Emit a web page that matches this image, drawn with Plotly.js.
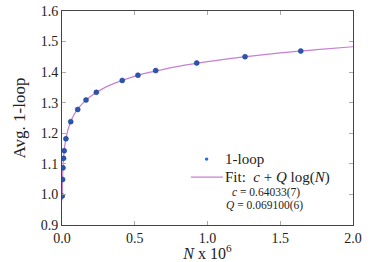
<!DOCTYPE html>
<html>
<head>
<meta charset="utf-8">
<script src="https://cdn.plot.ly/plotly-3.0.1.min.js"></script>
<style>html,body{margin:0;padding:0;background:#fff;}#chart{width:374px;height:262px;}</style>
</head>
<body>
<div id="chart"></div>
<script>
const nValues = [0.0018, 0.004, 0.0068, 0.0106, 0.0152, 0.027, 0.060, 0.108, 0.165, 0.236, 0.414, 0.522, 0.644, 0.926, 1.258, 1.641];
const avgValues = [0.995, 1.049, 1.087, 1.118, 1.143, 1.182, 1.238, 1.278, 1.309, 1.334, 1.373, 1.390, 1.405, 1.430, 1.4505, 1.469];
const fitN = [0.0015, 0.003, 0.005, 0.01, 0.02, 0.04, 0.07, 0.1, 0.15, 0.2, 0.3, 0.45, 0.6, 0.8, 1.0, 1.25, 1.5, 1.75, 2.0];
const fitValues = [0.981, 1.030, 1.065, 1.1135, 1.162, 1.210, 1.249, 1.274, 1.302, 1.322, 1.351, 1.379, 1.399, 1.419, 1.4345, 1.450, 1.463, 1.4735, 1.483];
const xTicks = [0.0, 0.5, 1.0, 1.5, 2.0];
const xTickText = ['0.0', '0.5', '1.0', '1.5', '2.0'];
const yTicks = [0.9, 1.0, 1.1, 1.2, 1.3, 1.4, 1.5, 1.6];
const yTickText = ['0.9', '1.0', '1.1', '1.2', '1.3', '1.4', '1.5', '1.6'];
const legendNames = ['1-loop', 'Fit:  <i>c</i> + <i>Q</i> log(<i>N</i>)'];
const fitText = ['<i>c</i> = 0.64033(7)', '<i>Q</i> = 0.069100(6)'];

const font = 'Liberation Serif, DejaVu Serif, serif';
const pointColor = '#2a55b0';
const fitColor = '#c87fd2';
const traces = [
  {x: fitN, y: fitValues, mode: 'lines', line: {color: fitColor, width: 1.2, shape: 'spline'},
   name: legendNames[1], hoverinfo: 'skip'},
  {x: nValues, y: avgValues, mode: 'markers', marker: {color: pointColor, size: 5, line: {color: '#1c3f8a', width: 0.5}},
   name: legendNames[0]}
];
const axisCommon = {
  showgrid: false, zeroline: false, showline: true, mirror: 'ticks', linecolor: '#444', linewidth: 1,
  ticks: 'inside', ticklen: 4, tickcolor: '#aaa', tickwidth: 1,
  tickfont: {family: font, size: 14, color: '#222'}
};
const txt = (x, y, text, size) => ({xref: 'paper', yref: 'paper', x: x, y: y, xanchor: 'left', yanchor: 'middle',
  showarrow: false, text: text, font: {family: font, size: size, color: '#222'}});
const layout = {
  width: 374, height: 262,
  margin: {l: 62, r: 21, t: 11, b: 37},
  paper_bgcolor: '#fff', plot_bgcolor: '#fff',
  font: {family: font, color: '#222'},
  xaxis: Object.assign({}, axisCommon, {range: [0, 2.0], tickvals: xTicks, ticktext: xTickText,
    title: {text: '<i>N</i> x 10<sup>6</sup>', font: {family: font, size: 16}, standoff: 2}}),
  yaxis: Object.assign({}, axisCommon, {range: [0.9, 1.6], tickvals: yTicks, ticktext: yTickText,
    title: {text: 'Avg. 1-loop', font: {family: font, size: 17}, standoff: 10}}),
  showlegend: false,
  shapes: [
    {type: 'circle', xref: 'paper', yref: 'paper', x0: 0.491, x1: 0.503, y0: 0.300, y1: 0.316,
     fillcolor: '#1f6fe0', line: {width: 0}},
    {type: 'line', xref: 'paper', yref: 'paper', x0: 0.443, x1: 0.553, y0: 0.224, y1: 0.224,
     line: {color: fitColor, width: 1.2}}
  ],
  annotations: [
    txt(0.553, 0.308, legendNames[0], 15),
    txt(0.553, 0.224, legendNames[1], 15),
    txt(0.578, 0.154, fitText[0], 11.5),
    txt(0.558, 0.089, fitText[1], 11.5)
  ]
};
Plotly.newPlot('chart', traces, layout, {displayModeBar: false, staticPlot: true});
</script>
</body>
</html>
